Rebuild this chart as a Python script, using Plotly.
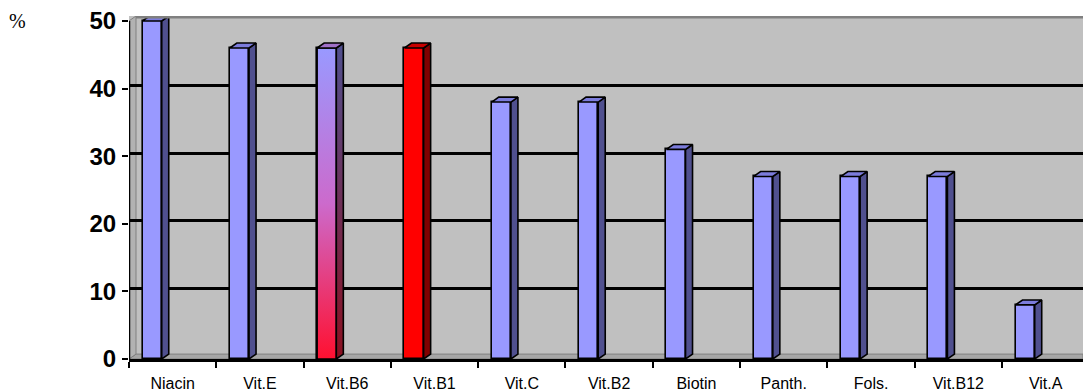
import plotly.graph_objects as go

# ---- data ----
categories = ["Niacin", "Vit.E", "Vit.B6", "Vit.B1", "Vit.C", "Vit.B2",
              "Biotin", "Panth.", "Fols.", "Vit.B12", "Vit.A"]
values = [50, 46, 46, 46, 38, 38, 31, 27, 27, 27, 8]
y_ticks = [0, 10, 20, 30, 40, 50]
# style per bar: "blue", "red", or "grad" (blue->red gradient)
bar_styles = ["blue", "blue", "grad", "red", "blue", "blue",
              "blue", "blue", "blue", "blue", "blue"]

# ---- geometry (in axis units) ----
PX_X = 87.3
PX_Y = 6.88
DX = 7 / PX_X
DY = 5 / PX_Y
OFF = -0.235
W = 0.22
XMIN, XMAX = -0.5, 10.428
YMAX = 50.73

FRONT = {"blue": "#9999FF", "red": "#FF0000", "grad": "#CC6ACC"}
SIDE = {"blue": "#50508F", "red": "#800000", "grad": "#6A3070"}
TOP = {"blue": "#7C7CDC", "red": "#C80000", "grad": "#A070C8"}

xs = list(range(len(categories)))
fig = go.Figure()

# front faces as bars
fig.add_trace(go.Bar(
    x=[i + OFF for i in xs], y=values, width=W,
    marker=dict(color=[FRONT[s] for s in bar_styles],
                line=dict(color="black", width=1.6)),
    hoverinfo="skip", showlegend=False))

# 3D side and top faces
for i, v, s in zip(xs, values, bar_styles):
    xl = i + OFF - W / 2
    xr = i + OFF + W / 2
    side = dict(x=[xr, xr + DX, xr + DX, xr, xr], y=[0, DY, v + DY, v, 0])
    top = dict(x=[xl, xl + DX, xr + DX, xr, xl], y=[v, v + DY, v + DY, v, v])
    if s == "grad":
        fig.add_trace(go.Scatter(
            x=[xl, xl, xr, xr, xl], y=[0, v, v, 0, 0], mode="lines",
            fill="toself", line=dict(color="black", width=1.6),
            fillgradient=dict(type="vertical",
                              colorscale=[[0, "#FF1030"], [0.5, "#CC6ACC"], [1, "#9999FF"]]),
            hoverinfo="skip", showlegend=False))
        fig.add_trace(go.Scatter(
            **side, mode="lines", fill="toself",
            line=dict(color="black", width=1.6),
            fillgradient=dict(type="vertical",
                              colorscale=[[0, "#8B1020"], [1, "#50508F"]]),
            hoverinfo="skip", showlegend=False))
    else:
        fig.add_trace(go.Scatter(
            **side, mode="lines", fill="toself", fillcolor=SIDE[s],
            line=dict(color="black", width=1.6),
            hoverinfo="skip", showlegend=False))
    fig.add_trace(go.Scatter(
        **top, mode="lines", fill="toself", fillcolor=TOP[s],
        line=dict(color="black", width=1.6),
        hoverinfo="skip", showlegend=False))

# invisible trace to carry the wall-gridline axis
fig.add_trace(go.Scatter(x=[XMIN], y=[0], yaxis="y2", mode="markers",
                         marker=dict(opacity=0), hoverinfo="skip", showlegend=False))

shift = 3 / PX_Y
shapes = [
    # floor
    dict(type="path", xref="x", yref="y", layer="below",
         path=f"M {XMIN},0 L {XMAX},0 L {XMAX},{DY} L {XMIN + DX},{DY} Z",
         fillcolor="#A6A6A6", line=dict(color="#808080", width=1)),
    # left side wall
    dict(type="path", xref="x", yref="y", layer="below",
         path=f"M {XMIN},0 L {XMIN + DX},{DY} L {XMIN + DX},{YMAX} L {XMIN},{YMAX - DY} Z",
         fillcolor="#B2B2B2", line=dict(color="#808080", width=1)),
    # top edge of back wall
    dict(type="line", xref="x", yref="y", x0=XMIN + DX, x1=XMAX, y0=YMAX - 0.15, y1=YMAX - 0.15,
         line=dict(color="#808080", width=3)),
    # y axis line
    dict(type="line", xref="x", yref="y", x0=XMIN, x1=XMIN, y0=0, y1=50,
         line=dict(color="black", width=2.5)),
]

fig.update_layout(
    width=1083, height=392,
    margin=dict(l=129, r=0, t=16, b=27),
    paper_bgcolor="white", plot_bgcolor="#C0C0C0",
    showlegend=False, bargap=0,
    shapes=shapes,
    xaxis=dict(range=[XMIN, XMAX], tickmode="array", tickvals=xs, ticktext=categories,
               ticks="", showgrid=False, zeroline=False,
               showline=True, linecolor="black", linewidth=2.5,
               tickfont=dict(family="Liberation Sans, Arial", size=16, color="black"),
               ticklabelstandoff=8,
               minor=dict(tickmode="array", tickvals=[i - 0.5 for i in xs] + [len(xs) - 0.5],
                          ticks="outside", ticklen=6, tickwidth=2, tickcolor="black",
                          showgrid=False)),
    yaxis=dict(range=[0, YMAX], tickmode="array", tickvals=y_ticks,
               ticks="outside", ticklen=6, tickwidth=2, tickcolor="black",
               showgrid=False, zeroline=False, showline=False,
               tickfont=dict(family="Liberation Sans, Arial", size=24, color="black",
                             weight="bold"),
               ticklabelstandoff=1),
    yaxis2=dict(range=[-shift, YMAX - shift], overlaying="y", side="left",
                tickmode="array", tickvals=[10, 20, 30, 40], showticklabels=False,
                ticks="", showgrid=True, gridcolor="black", gridwidth=2.5,
                zeroline=False, showline=False),
    annotations=[dict(text="%", xref="paper", yref="paper", x=-0.117, y=0.985,
                      showarrow=False, xanchor="center", yanchor="middle",
                      font=dict(family="Liberation Serif, Times New Roman", size=20,
                                color="black"))],
)

fig.write_html("out.html")
